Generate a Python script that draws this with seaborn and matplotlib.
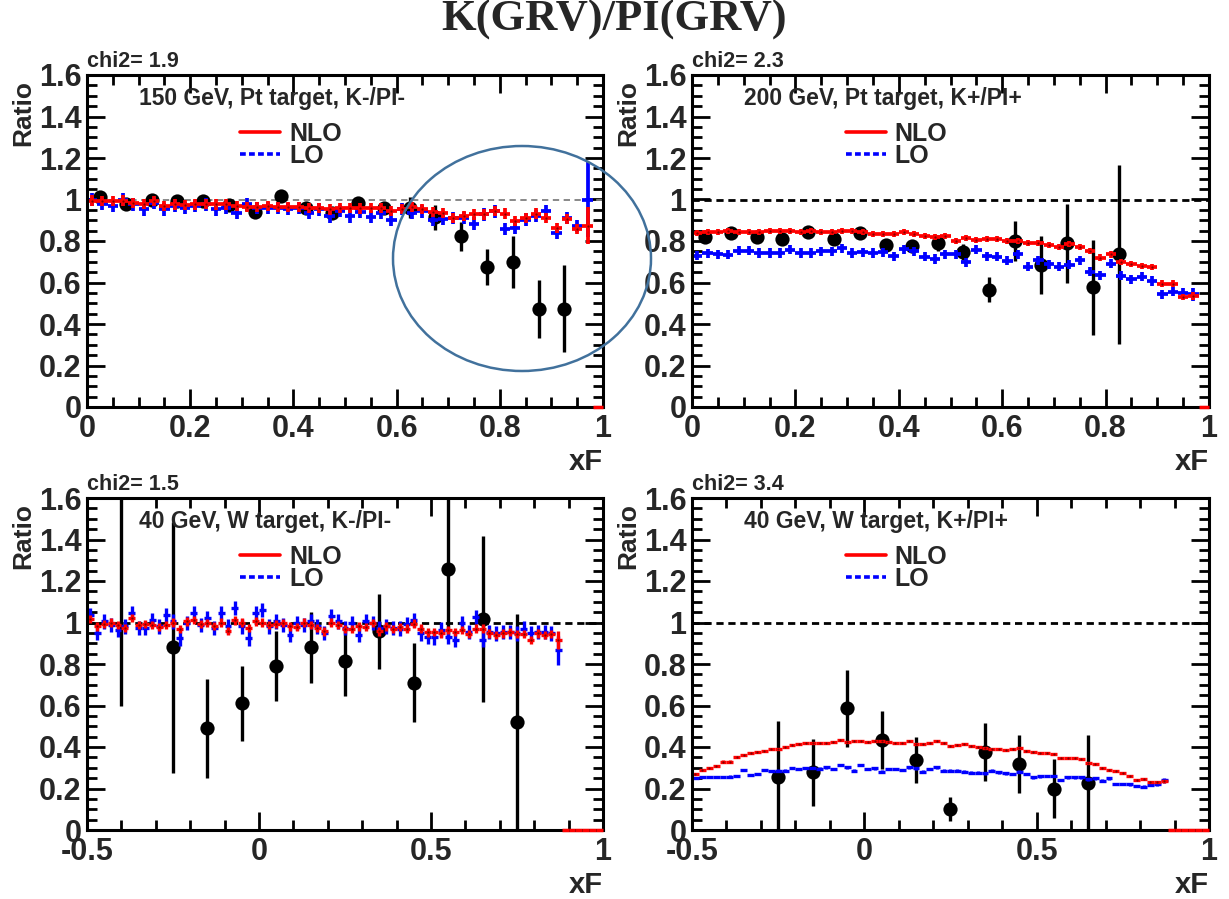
import numpy as np
import pandas as pd
import matplotlib
matplotlib.use("Agg")
import matplotlib.pyplot as plt
from matplotlib.lines import Line2D
from matplotlib.patches import Ellipse
from matplotlib.ticker import MultipleLocator, FuncFormatter
import seaborn as sns

# ---------------- data ----------------
TITLE = "K(GRV)/PI(GRV)"
panel_texts = ["150 GeV, Pt target, K-/PI-", "200 GeV, Pt target, K+/PI+",
               "40 GeV, W target, K-/PI-", "40 GeV, W target, K+/PI+"]
chi2_labels = ["chi2= 1.9", "chi2= 2.3", "chi2= 1.5", "chi2= 3.4"]
legend_labels = ["NLO", "LO"]
x_label = "xF"
y_label = "Ratio"

# histogram binning (0.02 wide bins)
top_edges = np.linspace(0.0, 1.0, 51)
bottom_edges = np.linspace(-0.5, 1.0, 76)

# --- 150 GeV, Pt, K-/PI- ---
tl_nlo = [0.995, 0.992, 0.992, 0.995, 0.984, 0.979, 0.992, 0.968, 0.976, 0.973,
          0.976, 0.979, 0.976, 0.976, 0.968, 0.965, 0.965, 0.968, 0.965, 0.965,
          0.965, 0.960, 0.960, 0.952, 0.960, 0.960, 0.957, 0.960, 0.960, 0.944,
          0.955, 0.964, 0.955, 0.939, 0.935, 0.911, 0.920, 0.928, 0.928, 0.944,
          0.932, 0.895, 0.911, 0.932, 0.911, 0.863, 0.906, 0.858, 0.874, 0.0]
tl_lo = [1.000, 0.979, 0.968, 1.000, 0.976, 0.952, 0.984, 0.952, 0.968, 0.960,
         0.968, 0.976, 0.952, 0.960, 0.935, 0.976, 0.960, 0.960, 0.960, 0.955,
         0.960, 0.935, 0.952, 0.919, 0.944, 0.919, 0.940, 0.915, 0.935, 0.903,
         0.955, 0.935, 0.943, 0.903, 0.906, 0.911, 0.911, 0.884, 0.928, 0.943,
         0.858, 0.863, 0.903, 0.920, 0.943, 0.839, 0.911, 0.871, 1.000]
tl_data_x = [0.025, 0.075, 0.125, 0.175, 0.225, 0.275, 0.325, 0.375, 0.425, 0.475,
             0.525, 0.575, 0.625, 0.675, 0.725, 0.775, 0.825, 0.875, 0.925]
tl_data_y = [1.013, 0.980, 1.000, 0.994, 0.994, 0.973, 0.940, 1.016, 0.957, 0.936,
             0.984, 0.957, 0.960, 0.915, 0.823, 0.675, 0.697, 0.474, 0.474]
tl_data_err = [0.01, 0.01, 0.01, 0.01, 0.01, 0.01, 0.01, 0.01, 0.01, 0.01,
               0.012, 0.02, 0.05, 0.06, 0.07, 0.085, 0.125, 0.14, 0.21]

# --- 200 GeV, Pt, K+/PI+ ---
tr_nlo = [0.840, 0.845, 0.845, 0.850, 0.845, 0.845, 0.845, 0.850, 0.850, 0.850,
          0.845, 0.850, 0.845, 0.845, 0.850, 0.850, 0.845, 0.835, 0.835, 0.835,
          0.845, 0.835, 0.825, 0.820, 0.825, 0.800, 0.815, 0.805, 0.810, 0.810,
          0.800, 0.800, 0.790, 0.790, 0.780, 0.770, 0.785, 0.770, 0.750, 0.720,
          0.735, 0.700, 0.690, 0.680, 0.675, 0.595, 0.595, 0.530, 0.535, 0.0]
tr_lo = [0.729, 0.740, 0.737, 0.734, 0.753, 0.753, 0.742, 0.742, 0.742, 0.758,
         0.742, 0.742, 0.750, 0.750, 0.764, 0.742, 0.745, 0.742, 0.745, 0.726,
         0.761, 0.750, 0.724, 0.713, 0.737, 0.737, 0.697, 0.758, 0.726, 0.724,
         0.705, 0.737, 0.677, 0.708, 0.688, 0.677, 0.685, 0.708, 0.653, 0.635,
         0.691, 0.632, 0.616, 0.627, 0.607, 0.543, 0.556, 0.551, 0.543]
tr_data_x = [0.025, 0.075, 0.125, 0.175, 0.225, 0.275, 0.325, 0.375, 0.425, 0.475,
             0.525, 0.575, 0.625, 0.675, 0.725, 0.775, 0.825]
tr_data_y = [0.820, 0.840, 0.820, 0.810, 0.845, 0.810, 0.837, 0.780, 0.776, 0.790,
             0.747, 0.565, 0.800, 0.683, 0.790, 0.576, 0.736]
tr_data_err = [0.01, 0.01, 0.01, 0.01, 0.01, 0.01, 0.01, 0.015, 0.02, 0.04,
               0.04, 0.06, 0.095, 0.14, 0.19, 0.23, 0.43]

# --- 40 GeV, W, K-/PI- ---
bl_nlo = [1.016, 0.981, 0.994, 1.000, 0.989, 0.973, 1.021, 0.989, 0.994, 0.989,
          0.977, 0.989, 1.000, 0.969, 1.005, 1.013, 0.994, 0.997, 0.984, 1.000,
          0.960, 1.010, 1.000, 0.973, 1.005, 1.000, 0.989, 0.994, 0.997, 0.981,
          0.977, 1.000, 0.989, 0.973, 0.957, 1.000, 0.989, 0.969, 0.969, 0.981,
          0.977, 0.997, 0.957, 0.981, 0.967, 0.980, 0.971, 0.995, 0.971, 0.952,
          0.955, 0.947, 0.963, 0.955, 0.963, 0.944, 0.971, 0.971, 0.947, 0.939,
          0.947, 0.955, 0.944, 0.944, 0.915, 0.947, 0.939, 0.944, 0.915,
          0.0, 0.0, 0.0, 0.0, 0.0, 0.0]
bl_lo = [1.037, 0.949, 1.005, 0.989, 0.965, 0.981, 1.045, 0.973, 0.973, 1.013,
         0.981, 1.037, 1.005, 0.924, 0.997, 1.045, 0.989, 1.021, 0.973, 1.045,
         0.981, 1.069, 0.981, 0.924, 1.045, 1.061, 0.981, 1.005, 0.989, 0.941,
         0.997, 0.989, 1.005, 0.981, 0.949, 1.029, 1.005, 0.973, 0.997, 0.941,
         1.005, 0.997, 0.973, 0.981, 0.973, 0.971, 0.992, 1.011, 0.947, 0.931,
         0.928, 0.966, 0.931, 0.918, 0.998, 0.955, 1.027, 0.918, 0.955, 0.947,
         0.955, 0.955, 0.947, 0.971, 0.947, 0.955, 0.955, 0.947, 0.867]
bl_data_x = [-0.40, -0.25, -0.15, -0.05, 0.05, 0.15, 0.25, 0.35, 0.45, 0.55, 0.65, 0.75]
bl_data_y = [2.00, 0.880, 0.490, 0.610, 0.790, 0.880, 0.815, 0.957, 0.710, 1.260, 1.016, 0.520]
bl_data_err = [1.40, 0.605, 0.24, 0.18, 0.17, 0.17, 0.17, 0.18, 0.19, 0.34, 0.40, 0.52]

# --- 40 GeV, W, K+/PI+ ---
br_nlo = [0.270, 0.290, 0.300, 0.310, 0.330, 0.330, 0.350, 0.360, 0.370, 0.375,
          0.380, 0.390, 0.390, 0.400, 0.410, 0.415, 0.420, 0.420, 0.420, 0.420,
          0.425, 0.435, 0.425, 0.430, 0.430, 0.425, 0.430, 0.430, 0.425, 0.420,
          0.420, 0.430, 0.415, 0.415, 0.420, 0.430, 0.420, 0.405, 0.410, 0.415,
          0.405, 0.400, 0.395, 0.390, 0.390, 0.385, 0.390, 0.395, 0.380, 0.375,
          0.370, 0.370, 0.365, 0.345, 0.345, 0.345, 0.340, 0.325, 0.320, 0.300,
          0.290, 0.285, 0.275, 0.260, 0.240, 0.245, 0.230, 0.230, 0.235,
          0.0, 0.0, 0.0, 0.0, 0.0, 0.0]
br_lo = [0.250, 0.255, 0.255, 0.255, 0.255, 0.257, 0.260, 0.290, 0.265, 0.270,
         0.290, 0.285, 0.286, 0.286, 0.300, 0.295, 0.300, 0.300, 0.296, 0.302,
         0.293, 0.313, 0.302, 0.286, 0.313, 0.293, 0.297, 0.281, 0.293, 0.293,
         0.289, 0.302, 0.297, 0.281, 0.293, 0.302, 0.286, 0.286, 0.286, 0.281,
         0.276, 0.276, 0.273, 0.286, 0.278, 0.273, 0.270, 0.281, 0.270, 0.254,
         0.258, 0.260, 0.260, 0.241, 0.254, 0.254, 0.254, 0.244, 0.249, 0.238,
         0.249, 0.222, 0.222, 0.220, 0.212, 0.209, 0.217, 0.220, 0.240]
br_data_x = [-0.25, -0.15, -0.05, 0.05, 0.15, 0.25, 0.35, 0.45, 0.55, 0.65]
br_data_y = [0.257, 0.278, 0.587, 0.434, 0.338, 0.101, 0.378, 0.318, 0.200, 0.225]
br_data_err = [0.27, 0.16, 0.185, 0.14, 0.11, 0.06, 0.14, 0.14, 0.14, 0.235]

# model uncertainties (typical NLO, last NLO, typical LO, last LO)
tl_errs = (0.025, 0.09, 0.03, 0.18)
tr_errs = (0.015, 0.018, 0.022, 0.03)
bl_errs = (0.02, 0.045, 0.035, 0.07)
br_errs = (0.005, 0.007, 0.006, 0.012)

# ---------------- style ----------------
sns.set_theme(style="ticks")
plt.rcParams["font.family"] = ["Liberation Sans", "DejaVu Sans"]
plt.rcParams["font.weight"] = "bold"
plt.rcParams["axes.labelweight"] = "bold"

W, H = 1229, 899
fig = plt.figure(figsize=(W / 100, H / 100), dpi=100)
fig.patch.set_facecolor("white")


def fig_rect(l, r, t, b):
    return [l / W, 1 - b / H, (r - l) / W, (b - t) / H]


ax_tl = fig.add_axes(fig_rect(87, 603, 75, 407))
ax_tr = fig.add_axes(fig_rect(692, 1209, 75, 407))
ax_bl = fig.add_axes(fig_rect(87, 603, 498, 830))
ax_br = fig.add_axes(fig_rect(692, 1209, 498, 830))

fmt = FuncFormatter(lambda v, p: "0" if abs(v) < 1e-9 else f"{v:g}")


def draw_panel(ax, edges, nlo, lo, errs, dx, dy, derr, xlim, xmaj, xmin,
               text, chi2, ref_color, ref_lw, ref_dash, cross_lw):
    centers = 0.5 * (edges[:-1] + edges[1:])
    half = 0.5 * np.diff(edges)
    nlo = np.asarray(nlo)
    lo = np.asarray(lo)
    nlo_err_typ, nlo_err_last, lo_err_typ, lo_err_last = errs

    ax.set_facecolor("white")
    ax.axhline(1.0, color=ref_color, lw=ref_lw, ls=(0, ref_dash), zorder=1)

    # data points
    df = pd.DataFrame({"xF": dx, "ratio": dy, "err": derr})
    ax.errorbar(df["xF"], df["ratio"], yerr=df["err"], fmt="none",
                ecolor="black", elinewidth=2.4, capsize=0, zorder=2)
    sns.scatterplot(data=df, x="xF", y="ratio", ax=ax, color="black", s=105,
                    edgecolor="black", linewidth=0, zorder=2.5, legend=False)

    # LO (blue)
    n_lo = len(lo)
    lo_err = np.full(n_lo, lo_err_typ)
    lo_err[-1] = lo_err_last
    ax.errorbar(centers[:n_lo], lo, xerr=half[:n_lo], yerr=lo_err, fmt="none",
                ecolor="#0000ff", elinewidth=cross_lw, capsize=0, zorder=3)

    # NLO (red)
    nz = nlo > 0
    n_nlo = int(nz.sum())
    nlo_err = np.full(n_nlo, nlo_err_typ)
    nlo_err[-1] = nlo_err_last
    ax.errorbar(centers[nz], nlo[nz], xerr=half[nz], yerr=nlo_err, fmt="none",
                ecolor="#ff0000", elinewidth=cross_lw, capsize=0, zorder=4)
    ax.plot(centers[nz], nlo[nz], ls="none", marker="o", ms=1.6,
            mfc="#800000", mec="none", zorder=4.5)
    # empty NLO bins drawn as bars at zero
    ax.hlines(nlo[~nz], centers[~nz] - half[~nz], centers[~nz] + half[~nz],
              color="#ff0000", lw=2.5, zorder=6, clip_on=False)

    ax.set_xlim(*xlim)
    ax.set_ylim(0, 1.6)
    ax.set_xlabel("")
    ax.set_ylabel("")
    ax.xaxis.set_major_locator(MultipleLocator(xmaj))
    ax.xaxis.set_minor_locator(MultipleLocator(xmin))
    ax.yaxis.set_major_locator(MultipleLocator(0.2))
    ax.yaxis.set_minor_locator(MultipleLocator(0.05))
    ax.xaxis.set_major_formatter(fmt)
    ax.yaxis.set_major_formatter(fmt)
    ax.tick_params(which="both", direction="in", top=True, right=True,
                   width=2.0, color="black")
    ax.tick_params(which="major", length=13, labelsize=22)
    ax.tick_params(axis="x", which="major", pad=5)
    ax.tick_params(axis="y", which="major", pad=4)
    ax.tick_params(which="minor", length=7)
    for s in ax.spines.values():
        s.set_linewidth(2.2)
        s.set_color("black")
        s.set_zorder(5)

    ax.text(0.10, 0.928, text, transform=ax.transAxes, fontsize=16.5,
            ha="left", va="center", fontweight="bold")
    ax.text(0.0, 1.024, chi2, transform=ax.transAxes, fontsize=15.5,
            ha="left", va="baseline", fontweight="bold")
    ax.text(-0.124, 0.985, y_label, transform=ax.transAxes, fontsize=19,
            rotation=90, ha="center", va="top", fontweight="bold")
    ax.text(1.0, -0.167, x_label, transform=ax.transAxes, fontsize=21,
            ha="right", va="center", fontweight="bold")

    handles = [Line2D([], [], color="#ff0000", lw=2.6),
               Line2D([], [], color="#0000ff", lw=2.6, ls=(0, (1.6, 0.9)))]
    ax.legend(handles, legend_labels, loc="upper left",
              bbox_to_anchor=(0.297, 0.858), frameon=False, fontsize=18,
              handlelength=1.6, handletextpad=0.35, labelspacing=-0.1,
              borderpad=0, borderaxespad=0)


draw_panel(ax_tl, top_edges, tl_nlo, tl_lo, tl_errs, tl_data_x, tl_data_y,
           tl_data_err, (0, 1), 0.2, 0.05, panel_texts[0], chi2_labels[0],
           "#7f7f7f", 1.3, (3.5, 2.5), 2.7)
draw_panel(ax_tr, top_edges, tr_nlo, tr_lo, tr_errs, tr_data_x, tr_data_y,
           tr_data_err, (0, 1), 0.2, 0.05, panel_texts[1], chi2_labels[1],
           "black", 2.0, (2.6, 1.7), 2.7)
draw_panel(ax_bl, bottom_edges, bl_nlo, bl_lo, bl_errs, bl_data_x, bl_data_y,
           bl_data_err, (-0.5, 1), 0.5, 0.1, panel_texts[2], chi2_labels[2],
           "black", 2.0, (2.6, 1.7), 2.4)
draw_panel(ax_br, bottom_edges, br_nlo, br_lo, br_errs, br_data_x, br_data_y,
           br_data_err, (-0.5, 1), 0.5, 0.1, panel_texts[3], chi2_labels[3],
           "black", 2.0, (2.6, 1.7), 2.4)

fig.text(0.5, 1 - 20 / H, TITLE, ha="center", va="center", fontsize=32,
         family=["Liberation Serif", "DejaVu Serif"], fontweight="bold")

# highlight ellipse around the high-xF region
fig.add_artist(Ellipse((522 / W, 1 - 258.5 / H), 258 / W, 225 / H,
                       transform=fig.transFigure, fill=False,
                       edgecolor="#41719c", lw=1.8, zorder=20))

fig.savefig("out.png", dpi=100, facecolor="white")
